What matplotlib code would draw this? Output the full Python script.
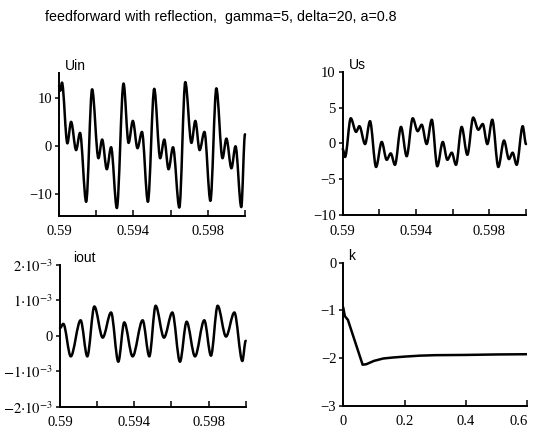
import matplotlib
matplotlib.use("Agg")
import matplotlib.pyplot as plt
from matplotlib.path import Path
from matplotlib.patches import PathPatch

plt.rcParams["font.family"] = ["Liberation Serif", "DejaVu Serif"]
plt.rcParams["mathtext.fontset"] = "stix"

TITLE = "feedforward with reflection,  gamma=5, delta=20, a=0.8"

# Uin (local extrema)
uin_t = [0.5900, 0.59007, 0.59016, 0.59045, 0.59065, 0.59092, 0.59113, 0.59146, 0.59178,
         0.59212, 0.59232, 0.59257, 0.59280, 0.59311, 0.59347, 0.59374, 0.59397, 0.59422,
         0.59446, 0.59478, 0.59512, 0.59544, 0.59566, 0.59589, 0.59613, 0.59647, 0.59679,
         0.59712, 0.59733, 0.59756, 0.59782, 0.59814, 0.59846, 0.59879, 0.59900, 0.59927,
         0.59949, 0.59980, 0.60000]
uin_v = [12.5, 11.5, 13.2, 0.5, 5.0, -0.9, 2.7, -11.7, 11.8,
         -2.6, 1.3, -4.9, -0.3, -13.0, 13.0, 0.6, 5.2, -0.5,
         2.9, -11.7, 11.9, -2.6, 1.3, -4.9, -0.3, -12.9, 13.3,
         0.6, 5.2, -0.9, 2.9, -11.5, 12.0, -2.6, 1.5, -4.7,
         -0.1, -12.8, 2.4]

# Us
us_t = [0.59, 0.59013, 0.59044, 0.59073, 0.59091, 0.59122, 0.59149, 0.59182, 0.59213,
        0.59240, 0.59262, 0.59285, 0.59318, 0.59349, 0.59382, 0.59409, 0.59431, 0.59458,
        0.59486, 0.59516, 0.59546, 0.59571, 0.59595, 0.59618, 0.59649, 0.59680, 0.59712,
        0.59740, 0.59764, 0.59789, 0.59816, 0.59849, 0.59880, 0.59907, 0.59927, 0.59949,
        0.59982, 0.6]
us_v = [-0.8, -1.9, 3.5, 1.6, 2.4, -0.1, 3.1, -3.3, 0.2,
        -2.3, -1.4, -3.0, 2.3, -1.8, 3.5, 1.7, 2.6, -0.1,
        3.3, -3.2, 0.2, -2.3, -1.3, -3.0, 2.3, -1.6, 3.6,
        1.9, 2.7, -0.1, 3.3, -3.3, 0.4, -2.2, -1.3, -3.0,
        2.4, -0.1]

# iout, in units of 1e-3
iout_t = [0.59, 0.59018, 0.59058, 0.59111, 0.59147, 0.59185, 0.59230, 0.59275, 0.59314,
          0.59346, 0.59391, 0.59445, 0.59481, 0.59515, 0.59560, 0.59605, 0.59646, 0.59682,
          0.59727, 0.59777, 0.59813, 0.59849, 0.59894, 0.59939, 0.59982, 0.6]
iout_v = [0.22, 0.34, -0.58, 0.44, -0.58, 0.83, -0.05, 0.66, -0.73,
          0.38, -0.58, 0.44, -0.58, 0.85, -0.05, 0.66, -0.73, 0.40,
          -0.58, 0.44, -0.56, 0.85, -0.02, 0.66, -0.71, -0.14]

# k
k_t = [0.0, 0.005, 0.015, 0.063, 0.075, 0.1, 0.13, 0.16, 0.2, 0.25, 0.3, 0.4, 0.5, 0.6]
k_v = [-0.95, -1.12, -1.2, -2.14, -2.13, -2.06, -2.01, -1.99, -1.97, -1.95, -1.94, -1.935, -1.925, -1.92]

T_TICKS = [0.59, 0.592, 0.594, 0.596, 0.598, 0.6]
T_LABELS = ["0.59", "", "0.594", "", "0.598", ""]


def smooth_line(ax, t, v, scale=1.0):
    # bezier through the read extrema, flat at each turning point
    verts = [(t[0], v[0] * scale)]
    codes = [Path.MOVETO]
    for i in range(1, len(t)):
        dt = (t[i] - t[i - 1]) / 3
        verts += [(t[i - 1] + dt, v[i - 1] * scale), (t[i] - dt, v[i] * scale), (t[i], v[i] * scale)]
        codes += [Path.CURVE4] * 3
    ax.add_patch(PathPatch(Path(verts, codes), fill=False, lw=1.8, edgecolor="black",
                           capstyle="round", joinstyle="round", clip_on=False))


def style(ax, xlim, ylim, xticks, xlabels, yticks, ylabels, name, name_x):
    ax.set_xlim(*xlim)
    ax.set_ylim(*ylim)
    for s in ("top", "right"):
        ax.spines[s].set_visible(False)
    for s in ("left", "bottom"):
        ax.spines[s].set_linewidth(1.4)
    ax.set_xticks(xticks)
    ax.set_xticklabels(xlabels)
    ax.set_yticks(yticks)
    ax.set_yticklabels(ylabels)
    ax.tick_params(axis="x", direction="in", length=4, width=1.1, pad=7, labelsize=10.5)
    ax.tick_params(axis="y", direction="out", length=3, width=1.1, pad=2, labelsize=10.5)
    ax.text(name_x, 1.0, name, transform=ax.transAxes, ha="left", va="bottom",
            family=["Liberation Sans", "DejaVu Sans"], fontsize=10)


W, H = 534, 430
fig = plt.figure(figsize=(W / 100, H / 100), dpi=100)
fig.text(45 / W, 1 - 21 / H, TITLE, ha="left", va="baseline",
         family=["Liberation Sans", "DejaVu Sans"], fontsize=10.3)

ax1 = fig.add_axes([59 / W, 1 - 215.7 / H, 186 / W, 142.7 / H])
smooth_line(ax1, uin_t, uin_v)
style(ax1, (0.59, 0.6), (-14.6, 15.2), T_TICKS, T_LABELS,
      [-10, 0, 10], ["\u221210", "0", "10"], "Uin", 0.03)

ax2 = fig.add_axes([342.7 / W, 1 - 215 / H, 183.3 / W, 143.3 / H])
smooth_line(ax2, us_t, us_v)
style(ax2, (0.59, 0.6), (-10, 10), T_TICKS, T_LABELS,
      [-10, -5, 0, 5, 10], ["\u221210", "\u22125", "0", "5", "10"], "Us", 0.035)

ax3 = fig.add_axes([60 / W, 1 - 406.7 / H, 185.7 / W, 141.7 / H])
smooth_line(ax3, iout_t, iout_v, scale=1e-3)
style(ax3, (0.59, 0.6), (-2e-3, 2e-3), T_TICKS, T_LABELS,
      [-2e-3, -1e-3, 0, 1e-3, 2e-3],
      [r"$-2{\cdot}10^{-3}$", r"$-1{\cdot}10^{-3}$", "0", r"$1{\cdot}10^{-3}$", r"$2{\cdot}10^{-3}$"],
      "iout", 0.07)

ax4 = fig.add_axes([343.3 / W, 1 - 405.7 / H, 184 / W, 143 / H])
ax4.plot(k_t, k_v, color="black", lw=1.8, solid_joinstyle="round")
style(ax4, (0, 0.6), (-3, 0), [0, 0.2, 0.4, 0.6], ["0", "0.2", "0.4", "0.6"],
      [-3, -2, -1, 0], ["\u22123", "\u22122", "\u22121", "0"], "k", 0.025)
ax4.get_xticklabels()[-1].set_horizontalalignment("right")

fig.savefig("out.png", dpi=100)
